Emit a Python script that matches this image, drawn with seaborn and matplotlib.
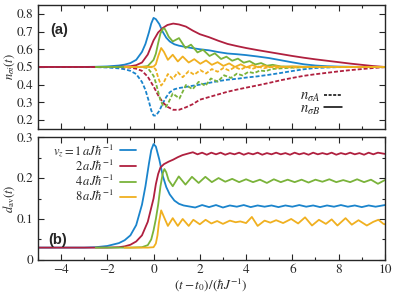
import numpy as np
import pandas as pd
import matplotlib
matplotlib.use('Agg')
import matplotlib.pyplot as plt
from matplotlib.lines import Line2D
from matplotlib.ticker import MultipleLocator
import seaborn as sns

# ---- data ----
labels = [r'$v_z = 1\,aJ\hbar^{-1}$', r'$2\,aJ\hbar^{-1}$', r'$4\,aJ\hbar^{-1}$', r'$8\,aJ\hbar^{-1}$']
colors = ['#1a84cc', '#b0203f', '#7ab33a', '#f0b020']

# panel (a): n_sigma A (dashed) and n_sigma B (solid)
t_a1 = [-5, -3, -2.5, -2, -1.5, -1.25, -1, -0.75, -0.5, -0.35, -0.2, -0.1, 0, 0.1, 0.25, 0.4, 0.55, 0.7, 0.9,
        1.1, 1.3, 1.6, 2.0, 2.4, 2.8, 3.2, 3.6, 4.0, 4.5, 5.0, 5.5, 6.0, 6.5, 7.0, 7.5, 8.0, 9.0, 10.0]
nB1 = [0.5, 0.5, 0.501, 0.503, 0.508, 0.513, 0.522, 0.54, 0.585, 0.63, 0.695, 0.745, 0.777, 0.77, 0.742, 0.698,
       0.665, 0.644, 0.628, 0.62, 0.615, 0.608, 0.6, 0.594, 0.584, 0.576, 0.572, 0.567, 0.559, 0.55, 0.538, 0.526,
       0.515, 0.508, 0.504, 0.502, 0.5, 0.5]
nA1 = [0.5, 0.5, 0.499, 0.497, 0.492, 0.487, 0.478, 0.46, 0.415, 0.37, 0.305, 0.255, 0.226, 0.225, 0.252, 0.295,
       0.33, 0.357, 0.374, 0.381, 0.385, 0.392, 0.4, 0.41, 0.42, 0.428, 0.433, 0.44, 0.447, 0.456, 0.466, 0.477,
       0.487, 0.494, 0.497, 0.499, 0.5, 0.5]

t_a2 = [-5, -2, -1.5, -1, -0.75, -0.5, -0.25, 0, 0.2, 0.4, 0.6, 0.85, 1.1, 1.4, 1.7, 2.0, 2.4, 2.8, 3.2, 3.6,
        4.0, 4.5, 5.0, 5.5, 6.0, 6.5, 7.0, 7.5, 8.0, 8.5, 9.0, 9.5, 10.0]
nB2 = [0.5, 0.5, 0.501, 0.504, 0.51, 0.525, 0.57, 0.65, 0.695, 0.72, 0.737, 0.745, 0.74, 0.728, 0.705, 0.685,
       0.668, 0.648, 0.63, 0.618, 0.607, 0.595, 0.584, 0.573, 0.562, 0.552, 0.543, 0.535, 0.527, 0.519, 0.512,
       0.505, 0.5]
nA2 = [0.5, 0.5, 0.499, 0.496, 0.49, 0.478, 0.445, 0.39, 0.34, 0.3, 0.275, 0.258, 0.258, 0.272, 0.29, 0.315,
       0.33, 0.345, 0.36, 0.372, 0.383, 0.396, 0.41, 0.425, 0.438, 0.45, 0.459, 0.467, 0.475, 0.482, 0.488,
       0.494, 0.499]

t_a3 = [-2.5, -1.0, -0.5, -0.25, 0, 0.1, 0.2, 0.3, 0.4, 0.47, 0.55, 0.65, 0.83, 1.1, 1.38, 1.62, 1.9, 2.14,
        2.42, 2.65, 2.92, 3.15, 3.4, 3.65, 3.9, 4.15, 4.4, 4.65, 4.9, 5.15, 5.5, 6.0, 7.0, 10.0]
nB3 = [0.5, 0.5, 0.501, 0.505, 0.54, 0.575, 0.635, 0.69, 0.715, 0.718, 0.7, 0.672, 0.644, 0.663, 0.607, 0.626,
       0.582, 0.597, 0.562, 0.577, 0.545, 0.558, 0.535, 0.547, 0.524, 0.533, 0.514, 0.522, 0.507, 0.512, 0.503,
       0.502, 0.5, 0.5]
t_a3d = [-2.5, -1.0, -0.5, -0.25, 0, 0.1, 0.2, 0.3, 0.4, 0.54, 0.65, 0.83, 1.12, 1.4, 1.69, 1.95, 2.24, 2.48,
         2.77, 3.05, 3.35, 3.6, 3.85, 4.1, 4.35, 4.6, 4.85, 5.1, 5.5, 6.0, 7.0, 10.0]
nA3 = [0.5, 0.5, 0.499, 0.494, 0.45, 0.41, 0.36, 0.31, 0.285, 0.275, 0.3, 0.35, 0.322, 0.398, 0.374, 0.416,
       0.393, 0.435, 0.417, 0.453, 0.438, 0.462, 0.452, 0.472, 0.465, 0.48, 0.476, 0.488, 0.492, 0.496, 0.5, 0.5]

t_a4 = [-1.25, -0.25, 0, 0.1, 0.2, 0.33, 0.45, 0.62, 0.83, 1.05, 1.26, 1.52, 1.76, 2.02, 2.27, 2.52, 2.77,
        3.02, 3.27, 3.52, 3.77, 4.02, 4.27, 4.52, 4.77, 5.02, 5.3, 5.6, 6.0, 6.5, 7.0, 8.0, 10.0]
nB4 = [0.5, 0.5, 0.502, 0.515, 0.56, 0.607, 0.585, 0.54, 0.569, 0.531, 0.559, 0.525, 0.544, 0.518, 0.537,
       0.512, 0.527, 0.506, 0.52, 0.5, 0.515, 0.498, 0.511, 0.498, 0.508, 0.499, 0.505, 0.499, 0.503, 0.5, 0.501,
       0.5, 0.5]
nA4 = [0.5, 0.5, 0.498, 0.485, 0.44, 0.395, 0.415, 0.46, 0.432, 0.47, 0.442, 0.476, 0.456, 0.482, 0.463, 0.488,
       0.473, 0.494, 0.48, 0.5, 0.485, 0.502, 0.489, 0.502, 0.492, 0.501, 0.495, 0.501, 0.497, 0.5, 0.499, 0.5, 0.5]

# panel (b): d_av
t_b1 = [-5, -3, -2.5, -2, -1.5, -1.25, -1, -0.75, -0.5, -0.35, -0.2, -0.1, 0, 0.1, 0.25, 0.4, 0.55, 0.7, 0.9,
        1.1, 1.3, 1.5, 1.8, 2.1, 2.4, 2.7, 3.0, 3.3, 3.6, 3.9, 4.2, 4.5, 4.8, 5.1, 5.4, 5.7, 6.0, 6.3, 6.6, 6.9,
        7.2, 7.5, 7.8, 8.1, 8.4, 8.7, 9.0, 9.3, 9.6, 10.0]
d1 = [0.03, 0.03, 0.031, 0.034, 0.041, 0.048, 0.06, 0.085, 0.135, 0.18, 0.235, 0.268, 0.283, 0.277, 0.245,
      0.205, 0.178, 0.16, 0.145, 0.137, 0.133, 0.131, 0.128, 0.134, 0.129, 0.134, 0.128, 0.133, 0.13, 0.134,
      0.129, 0.133, 0.13, 0.133, 0.129, 0.133, 0.13, 0.134, 0.13, 0.133, 0.129, 0.133, 0.13, 0.134, 0.13, 0.133,
      0.129, 0.133, 0.13, 0.134]

t_b2 = [-5, -2, -1.5, -1.25, -1, -0.75, -0.5, -0.25, 0, 0.1, 0.2, 0.3, 0.45, 0.65, 0.85, 1.05, 1.25, 1.5, 1.7,
        1.9, 2.1, 2.3, 2.5, 2.7, 2.9, 3.1, 3.3, 3.5, 3.7, 3.9, 4.1, 4.3, 4.5, 4.7, 4.9, 5.1, 5.3, 5.5, 5.7, 5.9,
        6.1, 6.3, 6.5, 6.7, 6.9, 7.1, 7.3, 7.5, 7.7, 7.9, 8.1, 8.3, 8.5, 8.7, 8.9, 9.1, 9.3, 9.5, 9.7, 10.0]
d2 = [0.03, 0.03, 0.031, 0.033, 0.037, 0.045, 0.06, 0.093, 0.15, 0.185, 0.21, 0.226, 0.234, 0.24, 0.245, 0.251,
      0.256, 0.26, 0.263, 0.258, 0.262, 0.257, 0.262, 0.258, 0.262, 0.257, 0.261, 0.258, 0.262, 0.257, 0.261,
      0.258, 0.262, 0.257, 0.261, 0.258, 0.262, 0.258, 0.261, 0.257, 0.262, 0.258, 0.261, 0.257, 0.262, 0.258,
      0.261, 0.258, 0.262, 0.257, 0.261, 0.258, 0.262, 0.258, 0.261, 0.257, 0.262, 0.258, 0.262, 0.259]

t_b3 = [-2.5, -1, -0.5, -0.25, -0.1, 0, 0.1, 0.2, 0.3, 0.4, 0.47, 0.55, 0.65, 0.83, 1.09, 1.38, 1.66, 1.95,
        2.24, 2.52, 2.81, 3.1, 3.4, 3.7, 4.0, 4.3, 4.6, 4.9, 5.2, 5.5, 5.8, 6.1, 6.4, 6.7, 7.0, 7.3, 7.6, 7.9,
        8.2, 8.5, 8.8, 9.1, 9.4, 9.7, 10.0]
d3 = [0.03, 0.03, 0.031, 0.036, 0.05, 0.072, 0.1, 0.135, 0.18, 0.212, 0.222, 0.214, 0.195, 0.18, 0.204, 0.184,
      0.203, 0.188, 0.203, 0.19, 0.2, 0.191, 0.198, 0.19, 0.197, 0.19, 0.196, 0.188, 0.197, 0.19, 0.196, 0.19,
      0.196, 0.189, 0.196, 0.191, 0.197, 0.19, 0.195, 0.19, 0.197, 0.19, 0.196, 0.186, 0.195]

t_b4 = [-1.25, -0.25, 0, 0.1, 0.17, 0.23, 0.33, 0.45, 0.62, 0.83, 1.05, 1.26, 1.52, 1.72, 2.0, 2.25, 2.5,
        2.75, 3.0, 3.3, 3.55, 3.75, 4.0, 4.25, 4.5, 4.8, 5.05, 5.3, 5.6, 5.95, 6.25, 6.55, 6.85, 7.15, 7.45,
        7.7, 7.95, 8.3, 8.57, 8.86, 9.22, 9.5, 9.72, 9.94, 10.0]
d4 = [0.03, 0.03, 0.031, 0.04, 0.06, 0.09, 0.121, 0.105, 0.083, 0.102, 0.083, 0.1, 0.083, 0.098, 0.087, 0.098,
      0.089, 0.095, 0.088, 0.096, 0.092, 0.094, 0.09, 0.105, 0.083, 0.096, 0.091, 0.097, 0.09, 0.1, 0.089,
      0.104, 0.084, 0.098, 0.088, 0.099, 0.084, 0.102, 0.086, 0.097, 0.084, 0.093, 0.098, 0.088, 0.087]

xticks = [-4, -2, 0, 2, 4, 6, 8, 10]
yticks_a = [0.2, 0.3, 0.4, 0.5, 0.6, 0.7, 0.8]
yticks_b = [0, 0.1, 0.2, 0.3]
yticklabels_b = ['0', '0.1', '0.2', '0.3']

# ---- style ----
sns.set_style('ticks')
plt.rcParams['font.family'] = ['STIXGeneral', 'DejaVu Serif']
plt.rcParams['mathtext.fontset'] = 'stix'
FS = 9.5

fig = plt.figure(figsize=(4.03, 2.93), dpi=100)
ax_a = fig.add_axes([0.094, 0.560, 0.861, 0.423])
ax_b = fig.add_axes([0.094, 0.113, 0.861, 0.419])

dash = (0, (2.2, 1.1))
lw = 1.3
panel_a = [(t_a1, nA1, t_a1, nB1), (t_a2, nA2, t_a2, nB2), (t_a3d, nA3, t_a3, nB3), (t_a4, nA4, t_a4, nB4)]
for (ta, na, tb, nb), c in zip(panel_a, colors):
    sns.lineplot(x=ta, y=na, ax=ax_a, color=c, lw=lw, linestyle=dash, sort=False)
    sns.lineplot(x=tb, y=nb, ax=ax_a, color=c, lw=lw, sort=False)

panel_b = [(t_b1, d1), (t_b2, d2), (t_b3, d3), (t_b4, d4)]
for (tb, db), c, lab in zip(panel_b, colors, labels):
    sns.lineplot(x=tb, y=db, ax=ax_b, color=c, lw=lw, label=lab, sort=False)

for ax in (ax_a, ax_b):
    ax.set_xlim(-5, 10)
    ax.set_xticks(xticks)
    ax.xaxis.set_minor_locator(MultipleLocator(1))
    ax.tick_params(which='both', direction='in', top=True, right=True, labelsize=FS, width=0.8, pad=3)
    ax.tick_params(which='major', length=4)
    ax.tick_params(which='minor', length=2)
    for s in ax.spines.values():
        s.set_linewidth(1.0)

ax_a.set_ylim(0.15, 0.85)
ax_a.set_yticks(yticks_a)
ax_a.tick_params(labelbottom=False)
ax_a.set_ylabel(r'$n_{\sigma i}(t)$', fontsize=9)
ax_a.yaxis.set_label_coords(-0.06, 0.5)
ax_a.text(0.035, 0.80, '(a)', transform=ax_a.transAxes, fontsize=10.5, fontweight='bold',
          family='Liberation Sans', va='center')
handles = [Line2D([], [], color='black', lw=1.1, linestyle=(0, (2.0, 1.0))),
           Line2D([], [], color='black', lw=1.1)]
ax_a.legend(handles, [r'$n_{\sigma A}$', r'$n_{\sigma B}$'], loc='lower right', bbox_to_anchor=(0.876, 0.1),
            frameon=False, markerfirst=False, fontsize=10.5, handlelength=1.2, handletextpad=0.3,
            labelspacing=-0.12, borderpad=0, borderaxespad=0)

ax_b.set_ylim(0, 0.3)
ax_b.set_yticks(yticks_b)
ax_b.set_yticklabels(yticklabels_b)
ax_b.yaxis.set_minor_locator(MultipleLocator(0.05))
ax_b.set_ylabel(r'$d_{\rm av}(t)$', fontsize=9)
ax_b.yaxis.set_label_coords(-0.06, 0.5)
ax_b.set_xlabel(r'$(t-t_0)/(\hbar J^{-1})$', fontsize=FS, labelpad=0.5)
ax_b.text(0.03, 0.16, '(b)', transform=ax_b.transAxes, fontsize=10.5, fontweight='bold',
          family='Liberation Sans', va='center')
ax_b.legend(loc='upper right', bbox_to_anchor=(0.282, 0.96), frameon=False, markerfirst=False, fontsize=9,
            handlelength=1.25, handletextpad=0.5, labelspacing=0.0, borderpad=0, borderaxespad=0)

fig.savefig('out.png', dpi=100)
